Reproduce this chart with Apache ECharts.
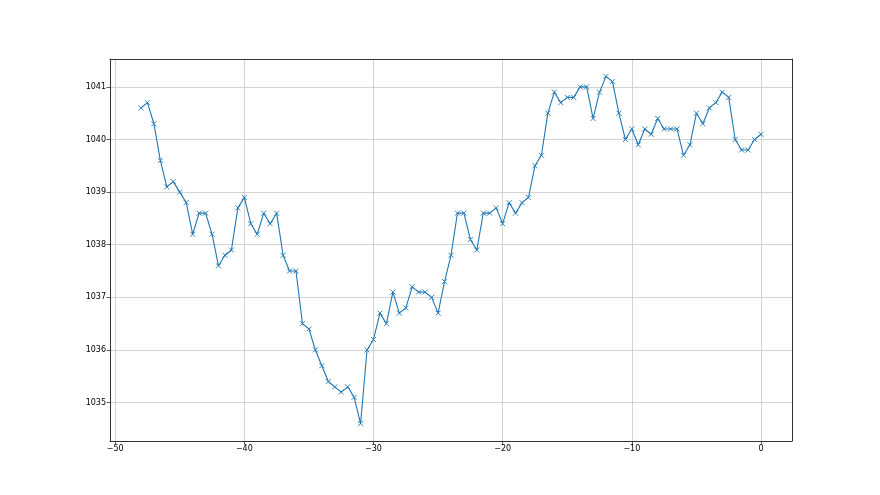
<!DOCTYPE html>
<html>
<head>
<meta charset="utf-8">
<script src="https://cdn.jsdelivr.net/npm/echarts@6/dist/echarts.min.js"></script>
<style>html,body{margin:0;padding:0;background:#fff;}#c{width:880px;height:495px;}</style>
</head>
<body>
<div id="c"></div>
<script>
const xValues = [-48,-47.5,-47,-46.5,-46,-45.5,-45,-44.5,-44,-43.5,-43,-42.5,-42,-41.5,-41,-40.5,-40,-39.5,-39,-38.5,-38,-37.5,-37,-36.5,-36,-35.5,-35,-34.5,-34,-33.5,-33,-32.5,-32,-31.5,-31,-30.5,-30,-29.5,-29,-28.5,-28,-27.5,-27,-26.5,-26,-25.5,-25,-24.5,-24,-23.5,-23,-22.5,-22,-21.5,-21,-20.5,-20,-19.5,-19,-18.5,-18,-17.5,-17,-16.5,-16,-15.5,-15,-14.5,-14,-13.5,-13,-12.5,-12,-11.5,-11,-10.5,-10,-9.5,-9,-8.5,-8,-7.5,-7,-6.5,-6,-5.5,-5,-4.5,-4,-3.5,-3,-2.5,-2,-1.5,-1,-0.5,0];
const yValues = [1040.6,1040.7,1040.3,1039.6,1039.1,1039.2,1039.0,1038.8,1038.2,1038.6,1038.6,1038.2,1037.6,1037.8,1037.9,1038.7,1038.9,1038.4,1038.2,1038.6,1038.4,1038.6,1037.8,1037.5,1037.5,1036.5,1036.4,1036.0,1035.7,1035.4,1035.3,1035.2,1035.3,1035.1,1034.6,1036.0,1036.2,1036.7,1036.5,1037.1,1036.7,1036.8,1037.2,1037.1,1037.1,1037.0,1036.7,1037.3,1037.8,1038.6,1038.6,1038.1,1037.9,1038.6,1038.6,1038.7,1038.4,1038.8,1038.6,1038.8,1038.9,1039.5,1039.7,1040.5,1040.9,1040.7,1040.8,1040.8,1041.0,1041.0,1040.4,1040.9,1041.2,1041.1,1040.5,1040.0,1040.2,1039.9,1040.2,1040.1,1040.4,1040.2,1040.2,1040.2,1039.7,1039.9,1040.5,1040.3,1040.6,1040.7,1040.9,1040.8,1040.0,1039.8,1039.8,1040.0,1040.1];
const xTicks = [-50,-40,-30,-20,-10,0];
const yTicks = [1035,1036,1037,1038,1039,1040,1041];

const color = '#1f77b4';
const xMin = -50.4, xMax = 2.4, yMin = 1034.27, yMax = 1041.53;
const font = 'DejaVu Sans';
const chart = echarts.init(document.getElementById('c'), null, {renderer: 'canvas'});
const axisCommon = {
  axisLine: {show: true, onZero: false, lineStyle: {color: '#333', width: 1}},
  axisTick: {show: true, inside: false, length: 3.5, lineStyle: {color: '#333', width: 0.8}},
  axisLabel: {color: '#000', fontFamily: font, fontSize: 8, margin: 4},
  splitLine: {show: true, lineStyle: {color: '#c8c8c8', width: 0.8}}
};
chart.setOption({
  animation: false,
  backgroundColor: '#fff',
  grid: {left: 110, right: 88, top: 59, bottom: 54, show: false},
  xAxis: [{
    type: 'value', min: xMin, max: xMax, position: 'bottom',
    axisLine: axisCommon.axisLine,
    axisTick: Object.assign({}, axisCommon.axisTick, {customValues: xTicks}),
    axisLabel: Object.assign({}, axisCommon.axisLabel, {customValues: xTicks, formatter: v => String(v).replace('-', '\u2212')}),
    splitLine: axisCommon.splitLine
  }, {
    type: 'value', min: xMin, max: xMax, position: 'top',
    axisLine: {show: true, onZero: false, lineStyle: {color: '#333', width: 1}},
    axisTick: {show: false}, axisLabel: {show: false}, splitLine: {show: false}
  }],
  yAxis: [{
    type: 'value', min: yMin, max: yMax, position: 'left',
    axisLine: axisCommon.axisLine,
    axisTick: Object.assign({}, axisCommon.axisTick, {customValues: yTicks}),
    axisLabel: Object.assign({}, axisCommon.axisLabel, {customValues: yTicks, formatter: v => String(v)}),
    splitLine: axisCommon.splitLine
  }, {
    type: 'value', min: yMin, max: yMax, position: 'right',
    axisLine: {show: true, onZero: false, lineStyle: {color: '#333', width: 1}},
    axisTick: {show: false}, axisLabel: {show: false}, splitLine: {show: false}
  }],
  series: [{
    type: 'line',
    data: xValues.map((x, i) => [x, yValues[i]]),
    symbol: 'path://M0,0L10,10M10,0L0,10',
    symbolSize: 5,
    showAllSymbol: true,
    lineStyle: {color: color, width: 1.1},
    itemStyle: {color: 'none', borderColor: color, borderWidth: 0.9},
    z: 5
  }]
});
</script>
</body>
</html>
